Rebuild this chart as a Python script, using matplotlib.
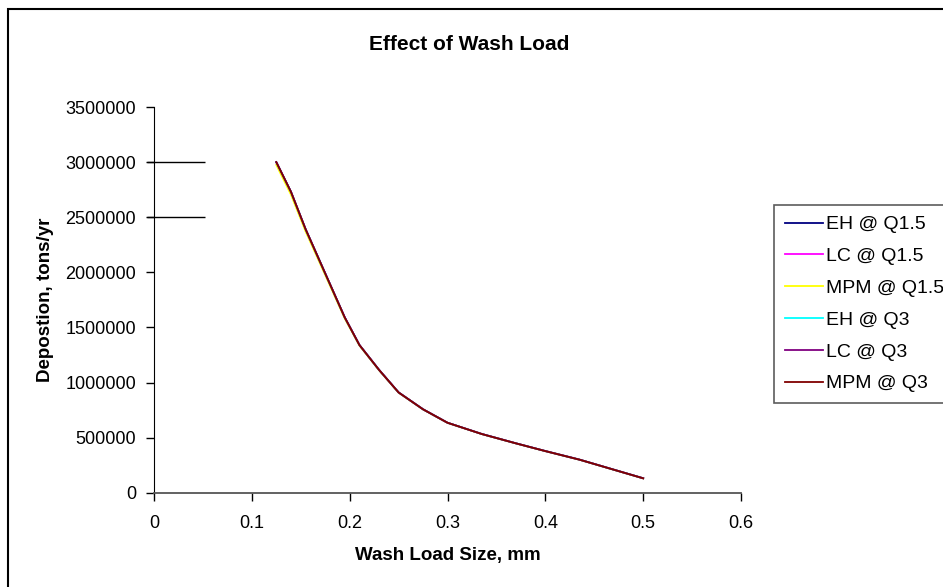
import matplotlib
matplotlib.use('Agg')
import matplotlib.pyplot as plt
from matplotlib.patches import Rectangle

plt.rcParams['font.family'] = ['Liberation Sans', 'DejaVu Sans']

# wash load size (mm) and deposition (tons/yr)
size_mm = [0.125, 0.14, 0.155, 0.175, 0.195, 0.21, 0.23, 0.25, 0.275, 0.30,
           0.335, 0.37, 0.40, 0.435, 0.50]
deposition = [3000000, 2730000, 2390000, 1990000, 1590000, 1340000, 1115000,
              910000, 757000, 635000, 533000, 448000, 378000, 300000, 131000]
# yellow series sits a hair below the others near the top
deposition_mpm15 = [2975000, 2705000, 2370000, 1975000, 1580000, 1335000, 1112000,
                    908000, 756000, 634000, 532000, 447000, 377000, 299000, 130000]

series_names = ['EH @ Q1.5', 'LC @ Q1.5', 'MPM @ Q1.5', 'EH @ Q3', 'LC @ Q3', 'MPM @ Q3']
series_colors = ['#000080', '#FF00FF', '#FFFF00', '#00FFFF', '#800080', '#800000']

stub_levels = [3000000, 2500000]

fig = plt.figure(figsize=(9.43, 5.87), dpi=100)
ax = fig.add_axes([0.1633, 0.1606, 0.6225, 0.6571])

for name, col in zip(series_names, series_colors):
    yy = deposition_mpm15 if name == 'MPM @ Q1.5' else deposition
    ax.plot(size_mm, yy, color=col, lw=1.3, label=name)

# short leftover lines next to the y axis
ax.hlines(stub_levels, -0.0072, 0.052, colors='black', lw=1, clip_on=False)

ax.set_xlim(0, 0.6)
ax.set_ylim(0, 3500000)
ax.set_xticks([0, 0.1, 0.2, 0.3, 0.4, 0.5, 0.6])
ax.set_xticklabels(['0', '0.1', '0.2', '0.3', '0.4', '0.5', '0.6'])
ax.set_yticks(range(0, 3500001, 500000))
ax.set_yticklabels([str(v) for v in range(0, 3500001, 500000)])
ax.tick_params(direction='out', length=6, width=1, labelsize=13, pad=7, color='black')
ax.tick_params(axis='x', pad=10)
ax.spines['top'].set_visible(False)
ax.spines['right'].set_visible(False)
ax.spines['left'].set_color('black')
ax.spines['bottom'].set_color('#555555')
ax.spines['bottom'].set_linewidth(1.3)

ax.set_xlabel('Wash Load Size, mm', fontsize=13.5, fontweight='bold', labelpad=11)
ax.set_ylabel('Depostion, tons/yr', fontsize=13.5, fontweight='bold', labelpad=8)
fig.text(0.498, 0.925, 'Effect of Wash Load', ha='center', va='center',
         fontsize=15, fontweight='bold')

leg = ax.legend(loc='upper left', bbox_to_anchor=(774 / 943, 1 - 205 / 587),
                bbox_transform=fig.transFigure, frameon=True, fancybox=False,
                fontsize=14, handlelength=1.95, handletextpad=0.2,
                labelspacing=0.73, borderaxespad=0, borderpad=0.55)
leg.get_frame().set_edgecolor('#333333')
leg.get_frame().set_linewidth(1.2)

# chart area border (runs off right and bottom edges)
fig.patches.append(Rectangle((8 / 943, -0.1), 2, 1 - 9 / 587 + 0.1,
                             transform=fig.transFigure, fill=False,
                             edgecolor='black', lw=1.5))

fig.savefig('out.png', dpi=100)
